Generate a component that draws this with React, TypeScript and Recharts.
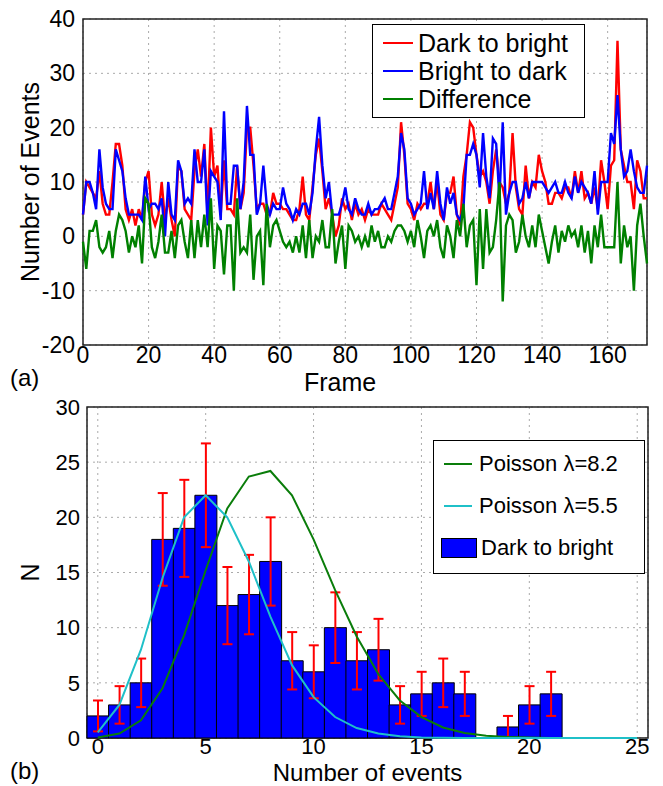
import React from "react";
import {
  LineChart,
  Line,
  ComposedChart,
  Bar,
  ErrorBar,
  XAxis,
  YAxis,
  CartesianGrid,
  Legend,
  Label,
  ReferenceArea,
} from "recharts";

// ---- panel (a): events per frame ----
const darkToBright = [
  4, 10, 9, 8, 7, 12, 6, 4, 4, 10,
  17, 17, 13, 5, 3, 5, 2, 5, 3, 10,
  12, 4, 2, 4, 10, 3, 7, 3, 0, 13,
  12, 5, 4, 3, 12, 16, 11, 17, 4, 20,
  11, 13, 4, 14, 5, 5, 4, 13, 5, 8,
  20, 20, 13, 5, 6, 6, 4, 4, 8, 6,
  6, 5, 5, 4, 3, 3, 5, 11, 4, 3,
  9, 15, 18, 12, 5, 7, 4, 0, 2, 7,
  5, 6, 3, 6, 4, 5, 3, 5, 4, 4,
  4, 6, 5, 4, 3, 6, 9, 21, 15, 6,
  5, 3, 6, 5, 6, 6, 10, 5, 10, 4,
  3, 8, 8, 11, 4, 2, 11, 15, 21, 20,
  15, 11, 12, 10, 6, 12, 16, 10, 9, 6,
  8, 19, 9, 5, 4, 13, 7, 10, 9, 15,
  12, 10, 6, 6, 8, 8, 7, 9, 9, 7,
  12, 8, 12, 7, 8, 6, 9, 5, 14, 10,
  5, 13, 14, 36, 16, 13, 10, 10, 5, 14,
  12, 7, 7,
];

const brightToDark = [
  4, 10, 10, 8, 5, 16, 9, 6, 5, 5,
  16, 14, 12, 7, 4, 4, 4, 4, 3, 11,
  5, 6, 6, 5, 7, 0, 10, 4, 3, 14,
  12, 6, 7, 6, 16, 10, 10, 16, 2, 12,
  11, 10, 3, 23, 6, 6, 13, 13, 5, 10,
  24, 15, 15, 4, 6, 13, 6, 4, 6, 5,
  5, 9, 6, 5, 3, 5, 4, 6, 6, 4,
  8, 16, 22, 13, 7, 10, 4, 4, 4, 6,
  9, 5, 4, 7, 5, 4, 4, 6, 4, 5,
  5, 6, 7, 5, 5, 8, 11, 19, 16, 7,
  6, 4, 5, 6, 12, 5, 8, 5, 12, 6,
  3, 9, 6, 8, 4, 3, 5, 15, 15, 17,
  15, 9, 19, 11, 7, 18, 17, 7, 21, 4,
  8, 10, 10, 6, 7, 10, 7, 10, 10, 10,
  10, 9, 8, 9, 10, 8, 8, 10, 8, 7,
  11, 8, 10, 9, 8, 6, 12, 4, 10, 10,
  10, 19, 17, 26, 16, 11, 12, 16, 12, 9,
  8, 8, 13,
];

const difference = [
  -1, -6, 1, 1, 3, -2, -3, -2, 1, -4,
  1, 4, 3, 1, -3, 0, -2, 2, -5, 7,
  6, -2, -4, -1, 4, -3, -3, 1, -4, 2,
  3, -1, -4, 3, -4, 3, -2, 4, -2, 7,
  -6, 2, 1, -7, 2, 2, -10, 7, -3, -2,
  -3, 4, -8, 0, 1, -9, 6, -2, 2, 3,
  1, -1, -2, -1, -3, 0, -3, 2, -4, 3,
  -4, 0, -1, 3, -2, -2, 5, -5, -1, 2,
  -6, 2, 1, -1, 0, -2, 0, -2, 2, -1,
  1, -2, -2, 0, -1, 1, 2, 2, 1, -1,
  1, -2, 3, 0, -4, 1, 2, 0, 3, -2,
  -4, 2, 0, -4, 3, 0, 6, -2, 2, 3,
  -9, 5, -6, 5, -3, -2, 3, 10, -12, 2,
  4, 3, -3, -1, 4, 0, -2, 2, -2, 4,
  1, -2, -5, -1, 2, -3, 1, -1, 2, 0,
  1, -2, 2, -3, 1, -5, 2, -2, 4, -2,
  -2, -2, -2, 10, -5, 2, -2, 0, -10, 2,
  6, 0, -5,
];

const frameTicks = [0, 20, 40, 60, 80, 100, 120, 140, 160];
const eventTicks = [-20, -10, 0, 10, 20, 30, 40];

// ---- panel (b): histogram ----
const binCounts = [2, 3, 5, 18, 19, 22, 12, 13, 16, 7, 6, 10, 7, 8, 3, 4, 5, 4, null, 1, 3, 4];
const binErrors = [1.4, 1.7, 2.2, 4.2, 4.4, 4.7, 3.5, 3.6, 4, 2.6, 2.4, 3.2, 2.6, 2.8, 1.7, 2, 2.2, 2, null, 1, 1.7, 2];
const poisson82 = [
  0.05, 0.4, 1.6, 4.5, 9.3, 15.2, 20.8, 23.7, 24.2, 22, 18, 13.4, 9.2,
  5.8, 3.4, 1.9, 0.95, 0.46, 0.2, 0.1, 0.04, 0, 0, 0, 0, 0,
];
const poisson55 = [
  0.5, 3, 8, 14.5, 20, 22, 20, 16, 11, 6.6, 3.7, 1.9, 0.9,
  0.4, 0.15, 0.05, 0.02, 0, 0, 0, 0, 0, 0, 0, 0, 0,
];
const countTicks = [0, 5, 10, 15, 20, 25];
const nTicks = [0, 5, 10, 15, 20, 25, 30];

const frameData = darkToBright.map((v, i) => ({
  frame: i,
  dark: v,
  bright: brightToDark[i],
  diff: difference[i],
}));

const histData = poisson82.map((p, k) => ({
  k,
  count: binCounts[k] ?? null,
  err: binErrors[k] ?? null,
  p82: p,
  p55: poisson55[k],
}));

const FONT = "'Liberation Sans', Arial, Helvetica, sans-serif";
const tickStyle = { fontSize: 23, fill: "#000", fontFamily: FONT };
const tickStyleB = { fontSize: 22, fill: "#000", fontFamily: FONT };

const BoxLegend = (props: any) => {
  const { payload = [], order, rowH, padTop, iconW, fontSize, gap } = props;
  const items = order
    .map((name: string) => payload.find((p: any) => p.value === name))
    .filter(Boolean);
  return (
    <div
      style={{
        border: "1px solid #000",
        background: "#fff",
        padding: `${padTop}px 6px 4px 10px`,
        fontFamily: FONT,
        fontSize,
        color: "#000",
        lineHeight: `${rowH}px`,
        whiteSpace: "nowrap",
      }}
    >
      {items.map((it: any) => (
        <div key={it.value} style={{ display: "flex", alignItems: "center", height: rowH }}>
          {it.type === "rect" ? (
            <span
              style={{
                display: "inline-block",
                width: iconW + 6,
                height: 18,
                background: it.color,
                border: "1px solid #000",
                marginRight: gap - 3,
                marginLeft: -3,
              }}
            />
          ) : (
            <span
              style={{
                display: "inline-block",
                width: iconW,
                borderTop: `2px solid ${it.color}`,
                marginRight: gap,
              }}
            />
          )}
          <span>{it.value}</span>
        </div>
      ))}
    </div>
  );
};

const AxisTitle = ({ viewBox, value, vertical, shiftX = 0, shiftY = 0, size = 25 }: any) => {
  if (!viewBox) return null;
  const style = { fontSize: size, fontFamily: FONT, fill: "#000" };
  if (vertical) {
    const x = viewBox.x + shiftX;
    const y = viewBox.y + viewBox.height / 2;
    return (
      <text x={x} y={y} transform={`rotate(-90 ${x} ${y})`} textAnchor="middle" dominantBaseline="central" style={style}>
        {value}
      </text>
    );
  }
  const x = viewBox.x + viewBox.width / 2 + shiftX;
  const y = viewBox.y + shiftY;
  return (
    <text x={x} y={y} textAnchor="middle" dominantBaseline="central" style={style}>
      {value}
    </text>
  );
};

const tag: React.CSSProperties = {
  position: "absolute",
  fontFamily: FONT,
  fontSize: 24,
  color: "#000",
};

export default function App() {
  return (
    <div
      style={{
        position: "absolute",
        left: 0,
        top: 0,
        width: 663,
        height: 786,
        background: "#fff",
        overflow: "hidden",
      }}
    >
      <div style={{ position: "absolute", left: 0, top: 0 }}>
        <LineChart
          width={663}
          height={400}
          data={frameData}
          margin={{ top: 19, right: 16, left: 0, bottom: 0 }}
        >
          <CartesianGrid stroke="#aaa" strokeDasharray="2 4" />
          <XAxis
            dataKey="frame"
            type="number"
            domain={[0, 172]}
            ticks={frameTicks}
            interval={0}
            height={55}
            axisLine={false}
            tickLine={false}
            tickSize={2}
            tickMargin={0}
            tick={tickStyle}
          >
            <Label
              value="Frame"
              content={(p: any) => <AxisTitle {...p} value="Frame" shiftX={-25} shiftY={37} />}
            />
          </XAxis>
          <YAxis
            type="number"
            domain={[-20, 40]}
            ticks={eventTicks}
            interval={0}
            width={83}
            axisLine={false}
            tickLine={false}
            tickSize={6}
            tickMargin={2}
            tick={tickStyle}
          >
            <Label
              value="Number of Events"
              content={(p: any) => <AxisTitle {...p} value="Number of Events" vertical shiftX={30} />}
            />
          </YAxis>
          <ReferenceArea x1={0} x2={172} y1={-20} y2={40} stroke="#222" strokeWidth={1.5} fill="none" fillOpacity={0} />
          <Line name="Dark to bright" dataKey="dark" type="linear" stroke="#ff0000" strokeWidth={2.4} dot={false} isAnimationActive={false} />
          <Line name="Bright to dark" dataKey="bright" type="linear" stroke="#0000ff" strokeWidth={2.4} dot={false} isAnimationActive={false} />
          <Line name="Difference" dataKey="diff" type="linear" stroke="#008000" strokeWidth={2.4} dot={false} isAnimationActive={false} />
          <Legend
            layout="vertical"
            align="center"
            verticalAlign="middle"
            wrapperStyle={{ left: 372, top: 24, width: 213, height: "auto" }}
            content={(p: any) => (
              <BoxLegend
                {...p}
                order={["Dark to bright", "Bright to dark", "Difference"]}
                rowH={28}
                padTop={4}
                iconW={30}
                fontSize={25}
                gap={5}
              />
            )}
          />
        </LineChart>
      </div>
      <div style={{ ...tag, left: 10, top: 364 }}>(a)</div>

      <div style={{ position: "absolute", left: 0, top: 390 }}>
        <ComposedChart
          width={663}
          height={396}
          data={histData}
          margin={{ top: 17, right: 15, left: 0, bottom: 0 }}
          barCategoryGap={0}
          barGap={0}
        >
          <CartesianGrid stroke="#aaa" strokeDasharray="2 4" />
          <XAxis
            dataKey="k"
            type="number"
            domain={[-0.5, 25.5]}
            ticks={countTicks}
            interval={0}
            height={48}
            axisLine={false}
            tickLine={false}
            tickSize={0}
            tickMargin={0}
            tick={tickStyleB}
          >
            <Label
              value="Number of events"
              content={(p: any) => <AxisTitle {...p} value="Number of events" size={24} shiftX={0} shiftY={34.5} />}
            />
          </XAxis>
          <YAxis
            type="number"
            domain={[0, 30]}
            ticks={nTicks}
            interval={0}
            width={87}
            axisLine={false}
            tickLine={false}
            tickSize={5}
            tickMargin={2}
            tick={tickStyleB}
          >
            <Label
              value="N"
              content={(p: any) => <AxisTitle {...p} value="N" vertical shiftX={30} />}
            />
          </YAxis>
          <Bar name="Dark to bright" dataKey="count" fill="#0000ff" stroke="#000" strokeWidth={1} isAnimationActive={false}>
            <ErrorBar dataKey="err" width={5} stroke="#ff0000" strokeWidth={2} direction="y" />
          </Bar>
          <Line name="Poisson λ=8.2" dataKey="p82" type="linear" stroke="#0a7d0a" strokeWidth={2} dot={false} isAnimationActive={false} />
          <Line name="Poisson λ=5.5" dataKey="p55" type="linear" stroke="#1fc0c8" strokeWidth={2} dot={false} isAnimationActive={false} />
          <ReferenceArea x1={-0.5} x2={25.5} y1={0} y2={30} stroke="#222" strokeWidth={1.5} fill="none" fillOpacity={0} />
          <Legend
            layout="vertical"
            align="center"
            verticalAlign="middle"
            wrapperStyle={{ left: 433, top: 50, width: 212, height: "auto" }}
            content={(p: any) => (
              <BoxLegend
                {...p}
                order={["Poisson λ=8.2", "Poisson λ=5.5", "Dark to bright"]}
                rowH={42}
                padTop={2}
                iconW={28}
                fontSize={22}
                gap={7}
              />
            )}
          />
        </ComposedChart>
      </div>
      <div style={{ ...tag, left: 10, top: 757 }}>(b)</div>
    </div>
  );
}
